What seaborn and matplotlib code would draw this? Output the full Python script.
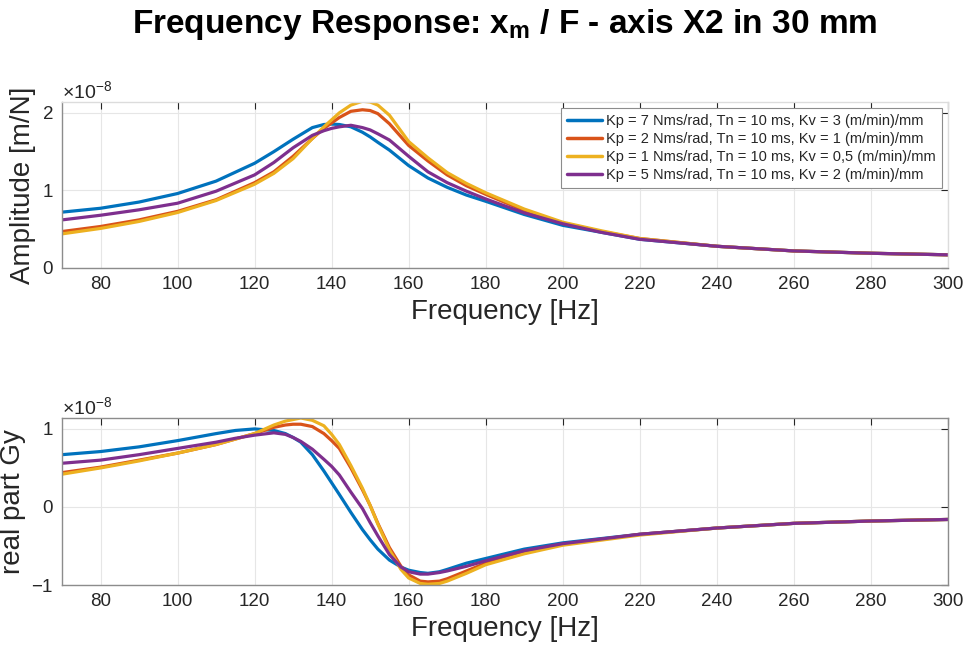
import numpy as np
import pandas as pd
import matplotlib
matplotlib.use("Agg")
import matplotlib.pyplot as plt
import seaborn as sns

# ---------------- data (values in units of 1e-8) ----------------
labels = [
    "Kp = 7 Nms/rad, Tn = 10 ms, Kv = 3 (m/min)/mm",
    "Kp = 2 Nms/rad, Tn = 10 ms, Kv = 1 (m/min)/mm",
    "Kp = 1 Nms/rad, Tn = 10 ms, Kv = 0,5 (m/min)/mm",
    "Kp = 5 Nms/rad, Tn = 10 ms, Kv = 2 (m/min)/mm",
]
colors = ["#0072BD", "#D95319", "#EDB120", "#7E2F8E"]

freq_amp = [70, 80, 90, 100, 110, 120, 125, 130, 135, 138, 140, 142, 145, 148, 150,
            152, 155, 160, 165, 170, 175, 180, 190, 200, 210, 220, 240, 260, 280, 300]
amp_kp7 = [0.72, 0.77, 0.85, 0.96, 1.12, 1.35, 1.50, 1.66, 1.81, 1.85, 1.855, 1.85, 1.82,
           1.75, 1.69, 1.62, 1.52, 1.32, 1.16, 1.04, 0.94, 0.86, 0.69, 0.55, 0.46, 0.37,
           0.28, 0.22, 0.19, 0.17]
amp_kp2 = [0.47, 0.535, 0.62, 0.73, 0.88, 1.10, 1.24, 1.44, 1.67, 1.80, 1.87, 1.94, 2.02,
           2.04, 2.03, 1.99, 1.86, 1.58, 1.38, 1.20, 1.06, 0.95, 0.74, 0.58, 0.47, 0.38,
           0.28, 0.22, 0.19, 0.17]
amp_kp1 = [0.44, 0.51, 0.60, 0.715, 0.87, 1.08, 1.22, 1.41, 1.67, 1.82, 1.91, 2.00, 2.10,
           2.15, 2.14, 2.10, 1.97, 1.63, 1.42, 1.23, 1.09, 0.97, 0.76, 0.59, 0.48, 0.38,
           0.28, 0.22, 0.19, 0.17]
amp_kp5 = [0.62, 0.68, 0.75, 0.835, 0.99, 1.20, 1.36, 1.55, 1.71, 1.77, 1.80, 1.82, 1.84,
           1.81, 1.78, 1.73, 1.65, 1.44, 1.24, 1.10, 0.99, 0.89, 0.71, 0.57, 0.46, 0.37,
           0.28, 0.22, 0.19, 0.17]

freq_re = [70, 80, 90, 100, 110, 115, 120, 125, 128, 130, 132, 135, 138, 140, 142, 145,
           148, 150, 152, 155, 158, 160, 163, 165, 168, 170, 175, 180, 190, 200, 220, 240,
           260, 280, 300]
re_kp7 = [0.67, 0.71, 0.77, 0.85, 0.94, 0.98, 1.00, 0.98, 0.94, 0.89, 0.83, 0.67, 0.46,
          0.31, 0.16, -0.07, -0.29, -0.42, -0.54, -0.68, -0.77, -0.81, -0.84, -0.85, -0.83,
          -0.80, -0.72, -0.66, -0.54, -0.46, -0.35, -0.27, -0.21, -0.18, -0.16]
re_kp2 = [0.44, 0.51, 0.60, 0.69, 0.80, 0.87, 0.94, 1.02, 1.05, 1.06, 1.06, 1.03, 0.94,
          0.85, 0.75, 0.50, 0.22, 0.02, -0.21, -0.52, -0.76, -0.87, -0.95, -0.96, -0.95,
          -0.92, -0.82, -0.72, -0.58, -0.48, -0.35, -0.27, -0.21, -0.18, -0.16]
re_kp1 = [0.42, 0.50, 0.59, 0.69, 0.80, 0.87, 0.94, 1.05, 1.10, 1.12, 1.14, 1.11, 1.04,
          0.93, 0.80, 0.53, 0.24, 0.02, -0.22, -0.55, -0.80, -0.91, -0.98, -0.99, -0.98,
          -0.95, -0.85, -0.74, -0.60, -0.49, -0.36, -0.27, -0.21, -0.18, -0.16]
re_kp5 = [0.56, 0.60, 0.67, 0.75, 0.83, 0.88, 0.92, 0.95, 0.93, 0.89, 0.84, 0.74, 0.61,
          0.52, 0.41, 0.19, -0.02, -0.20, -0.37, -0.61, -0.77, -0.83, -0.86, -0.86, -0.84,
          -0.82, -0.76, -0.69, -0.56, -0.47, -0.35, -0.27, -0.21, -0.18, -0.16]

amp_series = [amp_kp7, amp_kp2, amp_kp1, amp_kp5]
re_series = [re_kp7, re_kp2, re_kp1, re_kp5]

x_ticks = [80, 100, 120, 140, 160, 180, 200, 220, 240, 260, 280, 300]

# ---------------- build frames ----------------
scale = 1e-8
df_amp = pd.concat([pd.DataFrame({"f": freq_amp, "v": np.array(s) * scale, "series": l})
                    for s, l in zip(amp_series, labels)], ignore_index=True)
df_re = pd.concat([pd.DataFrame({"f": freq_re, "v": np.array(s) * scale, "series": l})
                   for s, l in zip(re_series, labels)], ignore_index=True)

sns.set_theme(style="white")
plt.rcParams["font.family"] = ["Liberation Sans", "DejaVu Sans"]
plt.rcParams["mathtext.fontset"] = "custom"
plt.rcParams["mathtext.rm"] = "Liberation Sans"
plt.rcParams["mathtext.bf"] = "Liberation Sans:bold"
plt.rcParams["mathtext.it"] = "Liberation Sans:italic"

fig = plt.figure(figsize=(9.67, 6.53), dpi=100)
ax1 = fig.add_axes([0.0641, 0.5896, 0.9162, 0.2542])
ax2 = fig.add_axes([0.0641, 0.1041, 0.9162, 0.2558])

palette = dict(zip(labels, colors))
sns.lineplot(data=df_amp, x="f", y="v", hue="series", hue_order=labels, palette=palette,
             linewidth=2.3, ax=ax1, sort=False)
sns.lineplot(data=df_re, x="f", y="v", hue="series", hue_order=labels, palette=palette,
             linewidth=2.3, ax=ax2, sort=False, legend=False)

for ax, ylim, yticks, ylabel in [
    (ax1, (0, 2.14e-8), [0, 1e-8, 2e-8], "Amplitude [m/N]"),
    (ax2, (-1e-8, 1.14e-8), [-1e-8, 0, 1e-8], "real part Gy"),
]:
    ax.set_xlim(70, 300)
    ax.set_ylim(*ylim)
    ax.set_xticks(x_ticks)
    ax.set_yticks(yticks)
    ax.ticklabel_format(axis="y", style="sci", scilimits=(0, 0), useMathText=True)
    ax.yaxis.get_offset_text().set_fontsize(14)
    ax.yaxis.get_offset_text().set_color("#262626")
    ax.grid(True, color="#e6e6e6", linewidth=0.8)
    ax.tick_params(direction="in", length=5, width=0.8, labelsize=13.5, colors="#262626",
                   top=True, right=True, pad=6)
    ax.set_xlabel("Frequency [Hz]", fontsize=20, color="#262626", labelpad=4)
    ax.set_ylabel(ylabel, fontsize=20, color="#262626", labelpad=4)
    for sp in ax.spines.values():
        sp.set_color("#8c8c8c")
        sp.set_linewidth(1.0)

ax1.spines["top"].set_color("#dcdcdc")
ax1.spines["right"].set_color("#dcdcdc")

leg = ax1.legend(loc="upper right", fontsize=10.5, frameon=True, fancybox=False,
                 edgecolor="#8c8c8c", framealpha=1, handlelength=2.4, handletextpad=0.3,
                 borderpad=0.4, labelspacing=0.28, borderaxespad=0,
                 bbox_to_anchor=(0.993, 0.962))
leg.get_frame().set_linewidth(0.8)
for line in leg.get_lines():
    line.set_linewidth(2.5)

fig.suptitle(r"Frequency Response: x$_\mathbf{m}$ / F - axis X2 in 30 mm",
             fontsize=24, fontweight="bold", color="black", x=0.522, y=0.99)

fig.savefig("out.png", dpi=100, facecolor="white")
